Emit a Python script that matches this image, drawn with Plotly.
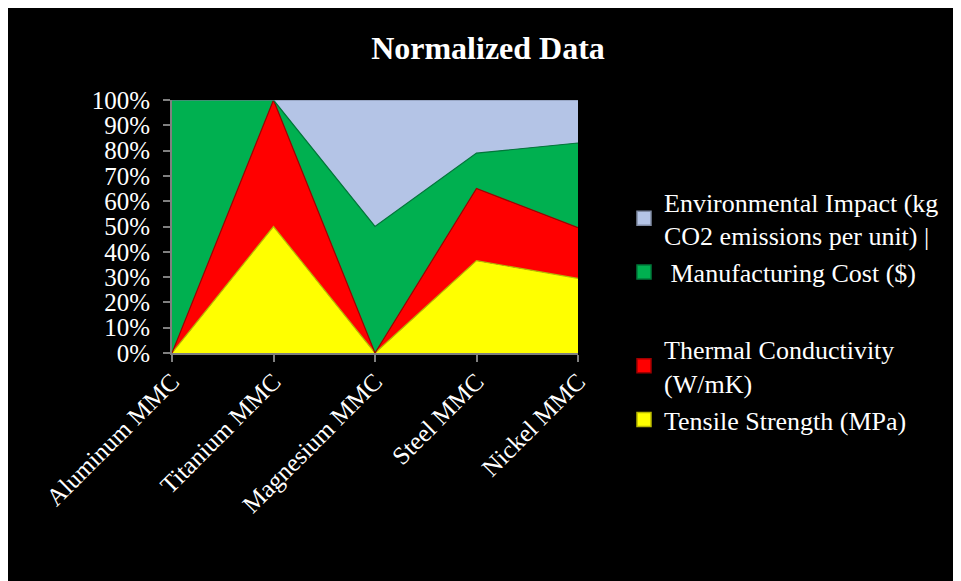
import plotly.graph_objects as go

categories = ["Aluminum MMC", "Titanium MMC", "Magnesium MMC", "Steel MMC", "Nickel MMC"]
tensile = [0, 50, 0, 36.5, 29.5]
thermal = [0, 50, 0, 28.5, 20]
manufacturing = [100, 0, 50, 14, 33.5]
environmental = [0, 0, 50, 21, 17]

series = [
    ("Tensile Strength (MPa)", tensile, "#ffff00", "#b8b800", "g2", 4),
    ("Thermal Conductivity<br>(W/mK)", thermal, "#ff0000", "#a00000", "g2", 3),
    (" Manufacturing Cost ($)", manufacturing, "#00b050", "#00783a", "g1", 2),
    ("Environmental Impact (kg<br>CO2 emissions per unit) |", environmental, "#b4c4e6", "#7f8aa3", "g1", 1),
]

FONT = "Times New Roman, Liberation Serif, serif"

fig = go.Figure()
for name, vals, fill, edge, grp, rank in series:
    fig.add_trace(go.Scatter(
        x=categories, y=vals, name=name, mode="lines",
        stackgroup="one", groupnorm="percent",
        fillcolor=fill, line=dict(color=edge, width=1.2),
        showlegend=False, hoverinfo="x+y+name",
    ))
for name, vals, fill, edge, grp, rank in series:
    fig.add_trace(go.Scatter(
        x=[None], y=[None], name=name, mode="markers",
        marker=dict(symbol="square", size=14, color=fill, line=dict(color=edge, width=1.5)),
        legendgroup=grp, legendrank=rank, showlegend=True, hoverinfo="skip",
    ))

# page has an 8px body offset; positions below are in figure pixels
W, H = 961, 581
L, R, T, B = 164, 961 - 570, 92, 581 - 345

fig.update_layout(
    width=W, height=H,
    margin=dict(l=L, r=R, t=T, b=B, autoexpand=False),
    paper_bgcolor="black", plot_bgcolor="black",
    font=dict(family=FONT, color="white", size=26),
    title=dict(text="<b>Normalized Data</b>", x=480 / W, xref="container",
               y=1 - 40 / H, yref="container", xanchor="center", yanchor="middle",
               font=dict(size=32, family=FONT, color="white")),
    showlegend=True,
    legend=dict(x=616 / W, y=1 - 170 / H, xref="container", yref="container",
                xanchor="left", yanchor="top",
                traceorder="grouped", tracegroupgap=40, maxheight=1,
                font=dict(size=26, family=FONT, color="white"),
                bgcolor="rgba(0,0,0,0)", itemwidth=30),
    xaxis=dict(type="category", range=[0, 4], showgrid=False, zeroline=False,
               showline=True, linecolor="#808080", linewidth=2,
               ticks="outside", ticklen=7, tickcolor="#808080", tickwidth=2,
               tickangle=-45, ticklabelstandoff=-5,
               tickfont=dict(size=25, family=FONT, color="white")),
    yaxis=dict(range=[0, 100], dtick=10, ticksuffix="%", showgrid=False, zeroline=False,
               showline=True, linecolor="#808080", linewidth=2,
               ticks="outside", ticklen=7, tickcolor="#808080", tickwidth=2,
               ticklabelstandoff=8,
               tickfont=dict(size=25, family=FONT, color="white")),
)

fig.write_html("out.html")
